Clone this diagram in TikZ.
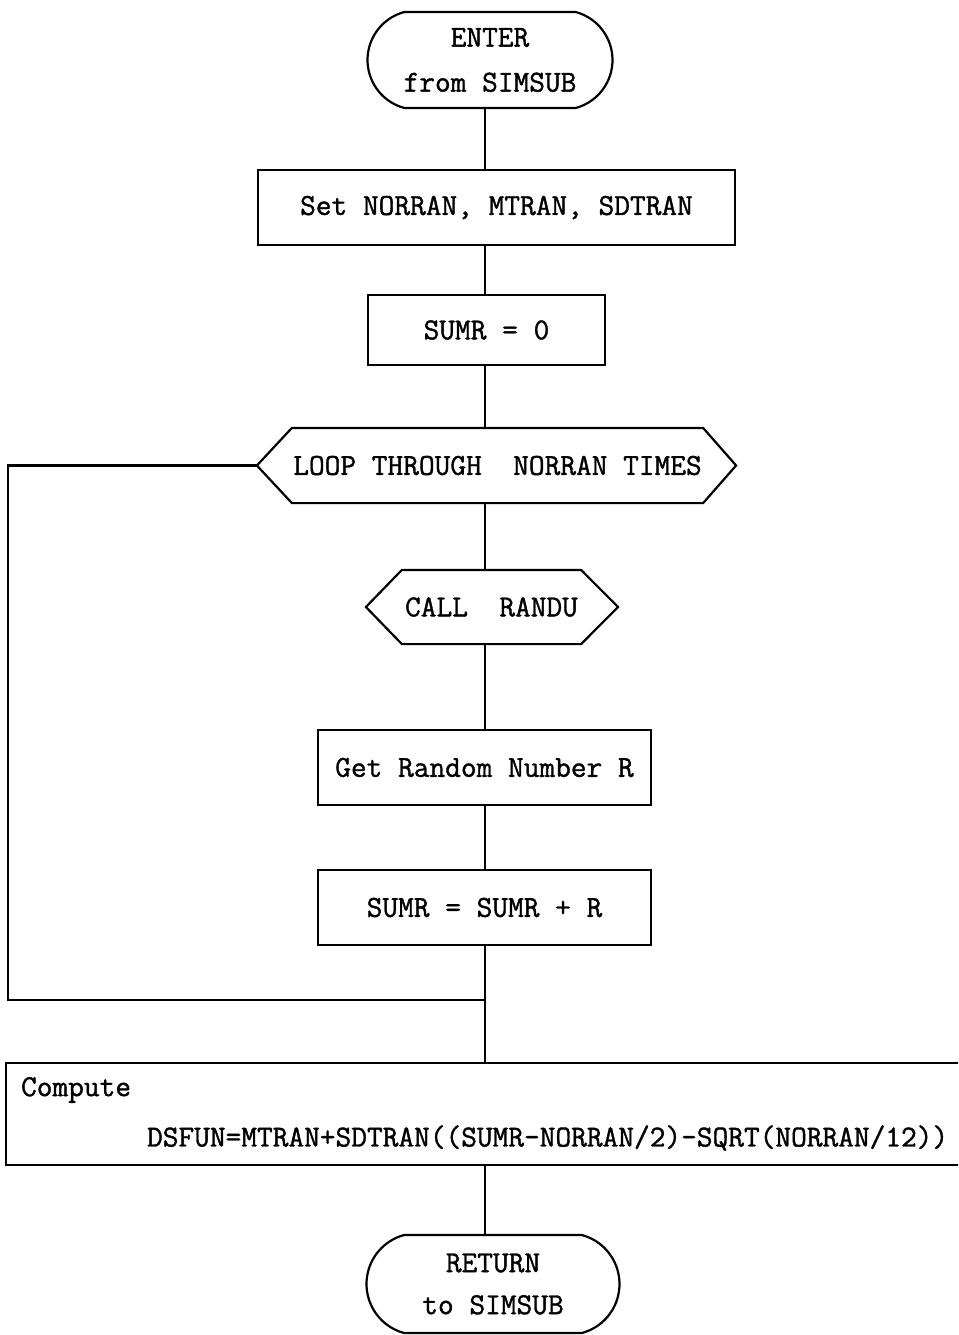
\documentclass[tikz,border=0pt]{standalone}
\usepackage{fontspec}
\usetikzlibrary{shapes.misc,calc}
\newfontfamily\twfont{Latin Modern Mono}[RawFeature={embolden=1.2}]
\newcommand{\ttbig}{\twfont\fontsize{30.5}{45}\selectfont}
\begin{document}
\begin{tikzpicture}[x=1pt,y=-1pt,line width=2.2pt,
  box/.style={draw,rectangle,inner sep=0pt,font=\ttbig},
  term/.style={draw,rounded rectangle,rounded rectangle arc length=150,inner sep=0pt,align=center,font=\ttbig},
  hexbase/.style={rectangle,inner sep=0pt,font=\ttbig},
  conn/.style={line width=2.2pt},
  txt/.style={inner sep=0pt,font=\ttbig,anchor=west}]
\useasboundingbox (0,0) rectangle (958,1335);
\clip (0,0) rectangle (958,1335);
\fill[white] (0,0) rectangle (958,1335);
\coordinate (spine) at (485,0);
% nodes
\node[term,minimum width=245pt,minimum height=96pt] (enter) at (490,60) {ENTER\\from SIMSUB};
\node[box,minimum width=477pt,minimum height=75pt] (set) at (496.5,207.5) {Set NORRAN, MTRAN, SDTRAN};
\node[box,minimum width=237pt,minimum height=70pt] (sumr0) at (486.5,330) {SUMR = 0};
\node[hexbase,minimum width=409pt,minimum height=73pt] (loop) at (497.5,465.5) {LOOP THROUGH\ \ NORRAN TIMES};
\draw (loop.north west) -- (loop.north east) -- ($(loop.east)+(33,0)$) -- (loop.south east)
  -- (loop.south west) -- ($(loop.west)+(-35,0)$) coordinate (looptip) -- cycle;
\node[hexbase,minimum width=177pt,minimum height=72pt] (call) at (491.5,607) {CALL\ \ RANDU};
\draw (call.north west) -- (call.north east) -- ($(call.east)+(37,0)$) -- (call.south east)
  -- (call.south west) -- ($(call.west)+(-36,0)$) -- cycle;
\node[box,minimum width=333pt,minimum height=75pt] (getr) at (484.5,767.5) {Get Random Number R};
\node[box,minimum width=333pt,minimum height=75pt] (sumrr) at (484.5,907.5) {SUMR = SUMR + R};
\node[draw,rectangle,inner sep=0pt,minimum width=975pt,minimum height=102pt,anchor=north west] (comp) at (5,1062) {};
\node[txt] (comptxt) at (20,1090) {Compute};
\node[txt] (dsfun) at (146,1138) {DSFUN=MTRAN+SDTRAN((SUMR-NORRAN/2)-SQRT(NORRAN/12))};
\node[term,minimum width=253pt,minimum height=98pt,font=\twfont\fontsize{30.5}{42}\selectfont] (ret) at (493,1284) {RETURN\\to SIMSUB};
% connectors
\coordinate (merge) at (485,1000);
\coordinate (lcorner) at (8,1000);
\draw[conn] (enter.south -| spine) -- (set.north -| spine);
\draw[conn] (set.south -| spine) -- (sumr0.north -| spine);
\draw[conn] (sumr0.south -| spine) -- (loop.north -| spine);
\draw[conn] (loop.south -| spine) -- (call.north -| spine);
\draw[conn] (call.south -| spine) -- (getr.north -| spine);
\draw[conn] (getr.south -| spine) -- (sumrr.north -| spine);
\draw[conn] (sumrr.south -| spine) -- (comp.north -| spine);
\draw[conn] (looptip) -| (lcorner) -- (merge);
\draw[conn] (comp.south -| spine) -- (ret.north -| spine);
\end{tikzpicture}
\end{document}
